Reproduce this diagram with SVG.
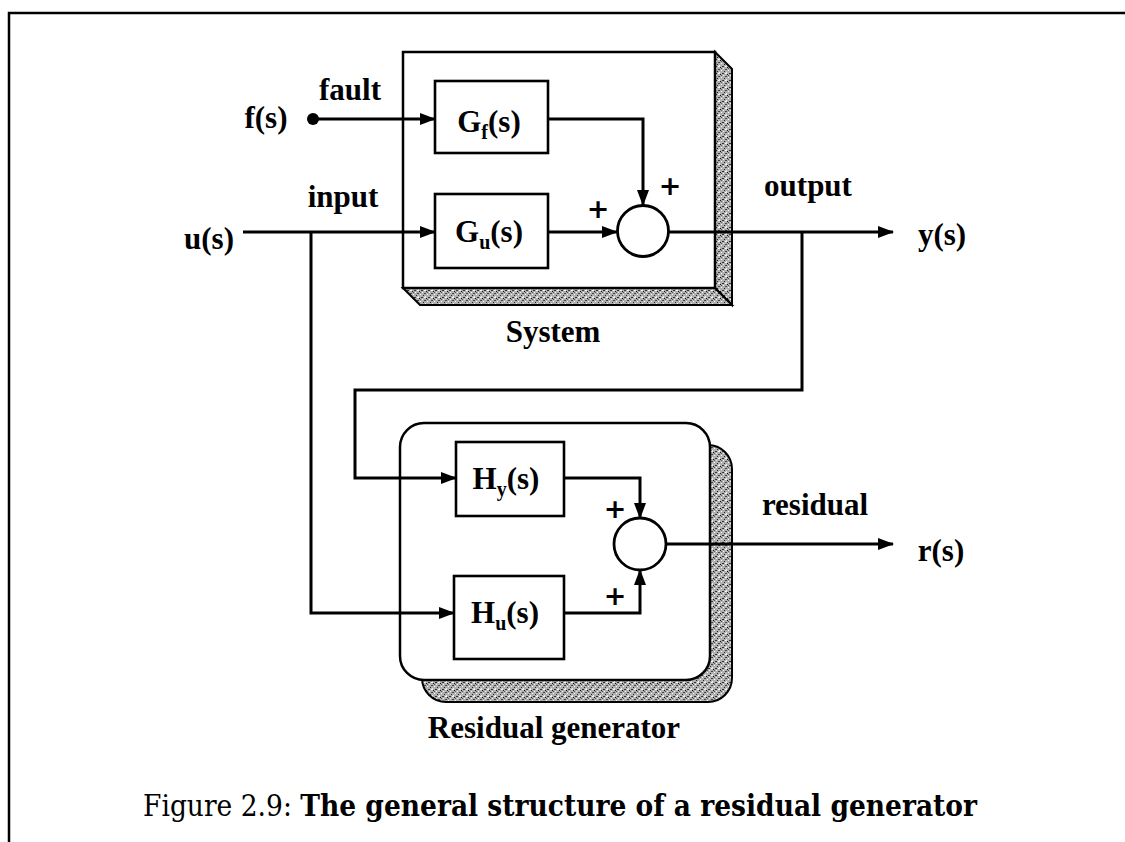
<svg xmlns="http://www.w3.org/2000/svg" width="1125" height="842" viewBox="0 0 1125 842">
  <style>
    .lbl { font-family: "Liberation Serif", "Times New Roman", serif; font-weight: bold; font-size: 31px; fill: #000; }
    .sub { font-size: 20px; }
    .blk { fill: #fff; stroke: #000; stroke-width: 2.6; }
    .wire { fill: none; stroke: #000; stroke-width: 3; }
    .sum { fill: #fff; stroke: #000; stroke-width: 2.8; }
    .plus { font-family: "DejaVu Sans", "Liberation Sans", sans-serif; font-weight: bold; font-size: 27px; fill: #000; }
    .cap { font-family: "DejaVu Serif", "Liberation Serif", serif; font-size: 29px; fill: #000; }
  </style>
  <defs>
    <marker id="arr" viewBox="0 0 16 12" refX="15" refY="6" markerWidth="16" markerHeight="12" markerUnits="userSpaceOnUse" orient="auto">
      <path d="M0,0 L16,6 L0,12 Z" fill="#000"/>
    </marker>
    <!-- speckled texture for the shaded sides -->
    <pattern id="speck" width="7" height="7" patternUnits="userSpaceOnUse">
      <rect width="7" height="7" fill="#b0b0b0"/>
      <rect x="0" y="0" width="1" height="1" fill="#fff"/>
      <rect x="3" y="1" width="1" height="1" fill="#222"/>
      <rect x="5" y="2" width="1" height="2" fill="#eee"/>
      <rect x="1" y="3" width="2" height="1" fill="#333"/>
      <rect x="6" y="4" width="1" height="1" fill="#111"/>
      <rect x="2" y="5" width="1" height="1" fill="#f4f4f4"/>
      <rect x="4" y="6" width="2" height="1" fill="#444"/>
      <rect x="0" y="5" width="1" height="1" fill="#555"/>
      <rect x="4" y="3" width="1" height="1" fill="#fff"/>
    </pattern>
  </defs>

  <rect width="1125" height="842" fill="#fff"/>

  <!-- page frame -->
  <path d="M9,842 L9,13 L1125,13" fill="none" stroke="#000" stroke-width="2.5"/>

  <!-- System block with bevelled sides -->
  <g id="system">
    <polygon points="715,52 732,69 732,305 715,288" fill="url(#speck)" stroke="#000" stroke-width="2"/>
    <polygon points="403,288 715,288 732,305 420,305" fill="url(#speck)" stroke="#000" stroke-width="2"/>
    <rect x="403" y="52" width="312" height="236" fill="#fff" stroke="#000" stroke-width="2.5"/>
    <text class="lbl" x="553" y="342" text-anchor="middle">System</text>
  </g>

  <!-- Residual generator block with drop shadow -->
  <g id="residual-generator">
    <rect x="422" y="445" width="310" height="257" rx="24" fill="url(#speck)" stroke="#000" stroke-width="2"/>
    <rect x="400" y="423" width="310" height="257" rx="24" fill="#fff" stroke="#000" stroke-width="2.5"/>
    <text class="lbl" x="554" y="738" text-anchor="middle">Residual generator</text>
  </g>

  <g id="connectors">
    <!-- fault input -->
    <circle cx="313" cy="119" r="6" fill="#000"/>
    <line class="wire" x1="313" y1="119" x2="435" y2="119" marker-end="url(#arr)"/>
    <!-- control input -->
    <line class="wire" x1="243" y1="232" x2="435" y2="232" marker-end="url(#arr)"/>
    <!-- Gf to summing junction -->
    <polyline class="wire" points="548,119 643,119 643,205" marker-end="url(#arr)"/>
    <!-- Gu to summing junction -->
    <line class="wire" x1="548" y1="232" x2="617" y2="232" marker-end="url(#arr)"/>
    <!-- system output -->
    <line class="wire" x1="669" y1="232" x2="893" y2="232" marker-end="url(#arr)"/>
    <!-- output feedback to Hy -->
    <polyline class="wire" points="802,232 802,390 355,390 355,478 456,478" marker-end="url(#arr)"/>
    <!-- input feed to Hu -->
    <polyline class="wire" points="311,232 311,613 454,613" marker-end="url(#arr)"/>
    <!-- Hy to sum -->
    <polyline class="wire" points="564,478 640,478 640,518" marker-end="url(#arr)"/>
    <!-- Hu to sum -->
    <polyline class="wire" points="564,613 640,613 640,570" marker-end="url(#arr)"/>
    <!-- residual output -->
    <line class="wire" x1="666" y1="544" x2="893" y2="544" marker-end="url(#arr)"/>
  </g>

  <g id="Gf">
    <rect class="blk" x="435" y="81" width="113" height="72"/>
    <text class="lbl" x="489" y="132" text-anchor="middle">G<tspan class="sub" dy="7">f</tspan><tspan dy="-7">(s)</tspan></text>
  </g>
  <g id="Gu">
    <rect class="blk" x="435" y="194" width="113" height="74"/>
    <text class="lbl" x="489" y="242" text-anchor="middle">G<tspan class="sub" dy="7">u</tspan><tspan dy="-7">(s)</tspan></text>
  </g>
  <g id="sum-system">
    <circle class="sum" cx="643" cy="231" r="25.5"/>
    <text class="plus" x="670" y="195" text-anchor="middle">+</text>
    <text class="plus" x="598" y="218" text-anchor="middle">+</text>
  </g>

  <g id="Hy">
    <rect class="blk" x="456" y="442" width="108" height="74"/>
    <text class="lbl" x="506" y="489" text-anchor="middle">H<tspan class="sub" dy="7">y</tspan><tspan dy="-7">(s)</tspan></text>
  </g>
  <g id="Hu">
    <rect class="blk" x="454" y="576" width="110" height="83"/>
    <text class="lbl" x="505" y="623" text-anchor="middle">H<tspan class="sub" dy="7">u</tspan><tspan dy="-7">(s)</tspan></text>
  </g>
  <g id="sum-residual">
    <circle class="sum" cx="640" cy="544" r="26"/>
    <text class="plus" x="615" y="518" text-anchor="middle">+</text>
    <text class="plus" x="615" y="605" text-anchor="middle">+</text>
  </g>

  <!-- signal labels -->
  <g id="labels">
    <text class="lbl" x="266" y="128" text-anchor="middle">f(s)</text>
    <text class="lbl" x="350" y="100" text-anchor="middle">fault</text>
    <text class="lbl" x="209" y="249" text-anchor="middle">u(s)</text>
    <text class="lbl" x="343" y="207" text-anchor="middle">input</text>
    <text class="lbl" x="808" y="196" text-anchor="middle">output</text>
    <text class="lbl" x="942" y="245" text-anchor="middle">y(s)</text>
    <text class="lbl" x="815" y="515" text-anchor="middle">residual</text>
    <text class="lbl" x="941" y="561" text-anchor="middle">r(s)</text>
  </g>

  <text class="cap" x="143" y="816" textLength="834" lengthAdjust="spacingAndGlyphs">Figure 2.9: <tspan font-weight="bold">The general structure of a residual generator</tspan></text>
</svg>
